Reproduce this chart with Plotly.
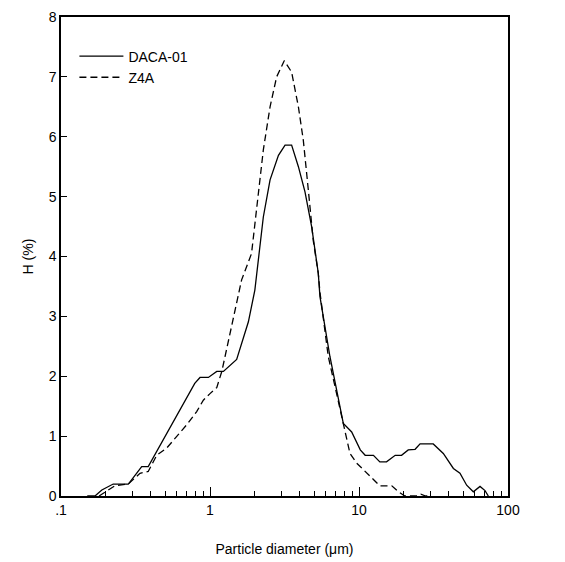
import plotly.graph_objects as go

# DACA-01 (solid)
daca_x = [0.15, 0.169, 0.188, 0.224, 0.283, 0.348, 0.385, 0.79, 0.857, 0.975, 1.11, 1.23, 1.51,
          1.81, 2.0, 2.28, 2.53, 2.88, 3.19, 3.53, 3.92, 4.34, 4.81, 5.33, 5.47, 6.38, 7.85, 8.93,
          10.2, 11.0, 12.5, 13.8, 15.3, 17.5, 19.3, 21.4, 23.8, 25.7, 31.5, 36.8, 43.0, 47.6,
          52.8, 58.5, 64.9, 70.1, 73.8]
daca_y = [0.0, 0.0, 0.1, 0.2, 0.2, 0.49, 0.49, 1.88, 1.98, 1.98, 2.08, 2.08, 2.28,
          2.91, 3.44, 4.66, 5.28, 5.69, 5.86, 5.86, 5.5, 5.08, 4.5, 3.72, 3.33, 2.33, 1.21, 1.07,
          0.77, 0.68, 0.68, 0.57, 0.57, 0.68, 0.68, 0.77, 0.78, 0.87, 0.87, 0.71, 0.46, 0.38,
          0.18, 0.07, 0.16, 0.09, 0.0]

# Z4A (dashed)
z4a_x = [0.18, 0.203, 0.23, 0.283, 0.339, 0.385, 0.439, 0.512, 0.598, 0.698, 0.814, 0.902, 1.0,
         1.11, 1.2, 1.36, 1.63, 1.9, 2.28, 2.53, 2.8, 3.15, 3.53, 3.92, 4.23, 4.57, 4.93, 5.33,
         5.47, 6.22, 7.08, 7.85, 8.7, 9.64, 11.0, 12.2, 13.8, 16.6, 18.4, 20.3, 24.0, 26.0, 28.0, 30.0]
z4a_y = [0.0, 0.09, 0.17, 0.2, 0.38, 0.41, 0.68, 0.8, 0.99, 1.19, 1.41, 1.6, 1.71,
         1.81, 2.08, 2.72, 3.61, 4.05, 5.78, 6.5, 7.0, 7.27, 7.08, 6.5, 5.94, 5.11, 4.27, 3.72,
         3.4, 2.33, 1.71, 1.21, 0.71, 0.55, 0.41, 0.29, 0.17, 0.17, 0.07, 0.0, 0.0, 0.03, 0.0, 0.0]

x_tickvals = [0.1, 1, 10, 100]
x_ticktext = [".1", "1", "10", "100"]
x_minor_vals = [m * d for d in (0.1, 1, 10) for m in range(2, 10)]
y_tickvals = [0, 1, 2, 3, 4, 5, 6, 7, 8]

FONT = "Liberation Sans, Arial, sans-serif"

fig = go.Figure()
fig.add_trace(go.Scatter(x=daca_x, y=daca_y, mode="lines", name="DACA-01",
                         line=dict(color="black", width=1.3)))
fig.add_trace(go.Scatter(x=z4a_x, y=z4a_y, mode="lines", name="Z4A",
                         line=dict(color="black", width=1.3, dash="7px,4px")))

# page body has an 8px default margin, so offsets are compensated here
fig.update_layout(
    width=565, height=562,
    margin=dict(l=53, r=65, t=9, b=74),
    paper_bgcolor="white", plot_bgcolor="white",
    font=dict(family=FONT, size=14, color="black"),
    showlegend=True,
    legend=dict(x=0.03, y=0.951, xanchor="left", yanchor="top",
                bgcolor="rgba(0,0,0,0)", font=dict(size=14, family=FONT),
                itemwidth=44, tracegroupgap=0),
)
fig.update_xaxes(
    type="log", range=[-1, 2], automargin=False,
    tickvals=x_tickvals, ticktext=x_ticktext,
    ticks="inside", ticklen=9, tickwidth=1.2, tickcolor="black",
    minor=dict(tickvals=x_minor_vals, ticks="inside", ticklen=5, tickwidth=1,
               tickcolor="black", showgrid=False),
    showline=True, linecolor="black", linewidth=1.5, mirror=True,
    showgrid=False, zeroline=False,
    title=dict(text="Particle diameter (\u03bcm)", font=dict(size=14), standoff=28),
    tickfont=dict(size=14),
)
fig.update_yaxes(
    range=[0, 8], tickvals=y_tickvals, automargin=False,
    ticks="inside", ticklen=6, tickwidth=1.2, tickcolor="black",
    showline=True, linecolor="black", linewidth=1.5, mirror=True,
    showgrid=False, zeroline=False,
    title=dict(text="H (%)", font=dict(size=14), standoff=12),
    tickfont=dict(size=14),
)

fig.write_html("out.html")
